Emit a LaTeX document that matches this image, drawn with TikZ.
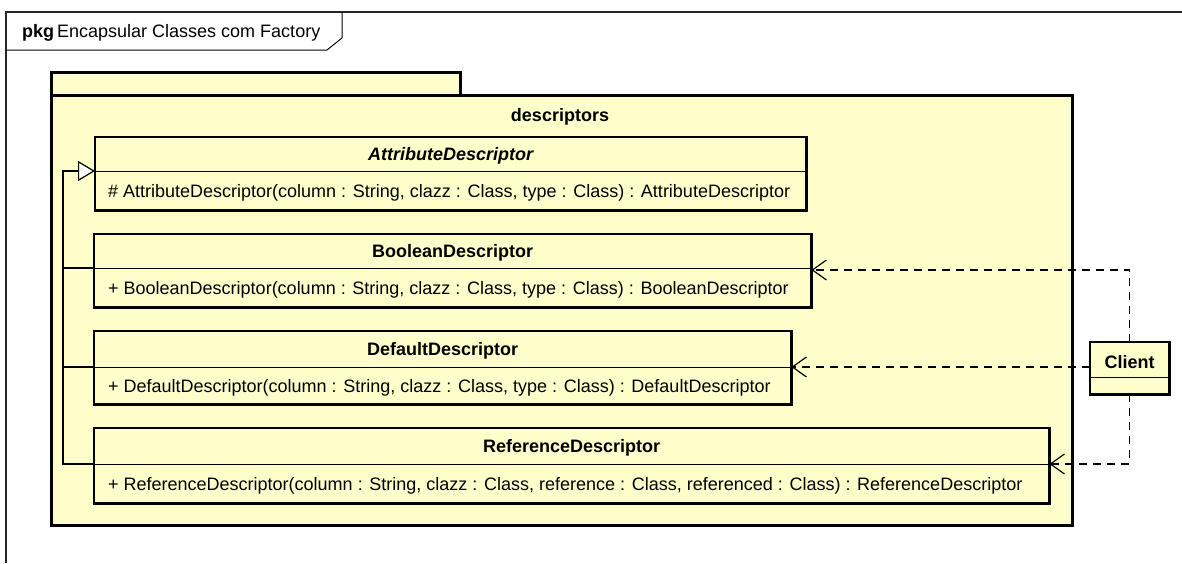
\documentclass[tikz,border=0pt]{standalone}
\usepackage{fontspec}
\setmainfont{Liberation Sans}
\usetikzlibrary{arrows.meta}
\definecolor{umlfill}{RGB}{255,255,204}
\begin{document}
\begin{tikzpicture}[x=1pt,y=-1pt,
  every node/.style={font=\fontsize{18}{21}\selectfont, inner sep=0pt},
  part/.style={rectangle, fill=umlfill, anchor=north west},
  outline/.style={line width=2.8pt},
  divider/.style={line width=1pt},
  title/.style={font=\fontsize{18}{21}\selectfont\bfseries, yshift=-2pt},
  member/.style={anchor=west, yshift=-2pt},
  dep/.style={line width=1.2pt, dash pattern=on 8pt off 6pt,
    -{Straight Barb[length=14pt,width=20pt,line width=1.2pt]}},
  gen/.style={line width=1.2pt},
]
\useasboundingbox (0,0) rectangle (1182,563);
\fill[white] (0,0) rectangle (1182,563);

% diagram frame
\draw[line width=1.4pt, black!85] (6,563) -- (6,12) -- (1182,12);
\draw[line width=1pt] (6,50) -- (327,50) -- (342,38) -- (342,12);
\node[anchor=west] (frameLbl) at (22,33) {\textbf{pkg}\hspace{3pt}Encapsular Classes com Factory};

% package descriptors
\node[part, draw, outline, minimum width=409pt, minimum height=23pt] (pkgTab) at (50,71) {};
\node[part, draw, outline, minimum width=1021pt, minimum height=430pt] (pkgBody) at (50,94) {};
\node[title] (pkgName) at (560,115) {descriptors};

% AttributeDescriptor
\node[part, minimum width=711pt, minimum height=34pt] (attrH) at (95,137) {};
\node[part, minimum width=711pt, minimum height=39pt] (attrB) at (95,171) {};
\draw[outline] (attrH.north west) rectangle (attrB.south east);
\draw[divider] (attrB.north west) -- (attrB.north east);
\node[title, font=\fontsize{18}{21}\selectfont\bfseries\itshape] (attrT) at (attrH.center) {AttributeDescriptor};
\node[member] (attrM) at ([xshift=13pt]attrB.west) {\# AttributeDescriptor(column : String, clazz : Class, type : Class) : AttributeDescriptor};

% BooleanDescriptor
\node[part, minimum width=717pt, minimum height=34pt] (boolH) at (94,234) {};
\node[part, minimum width=717pt, minimum height=39pt] (boolB) at (94,268) {};
\draw[outline] (boolH.north west) rectangle (boolB.south east);
\draw[divider] (boolB.north west) -- (boolB.north east);
\node[title] (boolT) at (boolH.center) {BooleanDescriptor};
\node[member] (boolM) at ([xshift=14pt]boolB.west) {+ BooleanDescriptor(column : String, clazz : Class, type : Class) : BooleanDescriptor};

% DefaultDescriptor
\node[part, minimum width=697pt, minimum height=36pt] (defH) at (94,331) {};
\node[part, minimum width=697pt, minimum height=37pt] (defB) at (94,367) {};
\draw[outline] (defH.north west) rectangle (defB.south east);
\draw[divider] (defB.north west) -- (defB.north east);
\node[title] (defT) at (defH.center) {DefaultDescriptor};
\node[member] (defM) at ([xshift=14pt]defB.west) {+ DefaultDescriptor(column : String, clazz : Class, type : Class) : DefaultDescriptor};

% ReferenceDescriptor
\node[part, minimum width=955pt, minimum height=36pt] (refH) at (94,428) {};
\node[part, minimum width=955pt, minimum height=39pt] (refB) at (94,464) {};
\draw[outline] (refH.north west) rectangle (refB.south east);
\draw[divider] (refB.north west) -- (refB.north east);
\node[title] (refT) at (refH.center) {ReferenceDescriptor};
\node[member] (refM) at ([xshift=14pt]refB.west) {+ ReferenceDescriptor(column : String, clazz : Class, reference : Class, referenced : Class) : ReferenceDescriptor};

% Client
\node[part, minimum width=79pt, minimum height=35pt] (cliH) at (1090,342) {};
\node[part, minimum width=79pt, minimum height=17pt] (cliB) at (1090,377) {};
\draw[outline] (cliH.north west) rectangle (cliB.south east);
\draw[divider] (cliB.north west) -- (cliB.north east);
\node[title] (cliT) at (cliH.center) {Client};

% generalization
\coordinate (trunk) at (63,171);
\draw[gen, -{Triangle[length=17pt,width=20pt,fill=white,line width=1.2pt]}]
  (refB.north west) -| (trunk) -- (attrB.north west);
\draw[gen] (boolB.north west) -- (boolB.north west -| trunk);
\draw[gen] (defB.north west) -- (defB.north west -| trunk);

% dependencies
\draw[dep] (cliH.north) |- ([yshift=-2pt]boolB.north east);
\draw[dep] (defB.north east -| cliH.west) -- (defB.north east);
\draw[dep] (cliB.south) |- (refB.north east);
\end{tikzpicture}
\end{document}
